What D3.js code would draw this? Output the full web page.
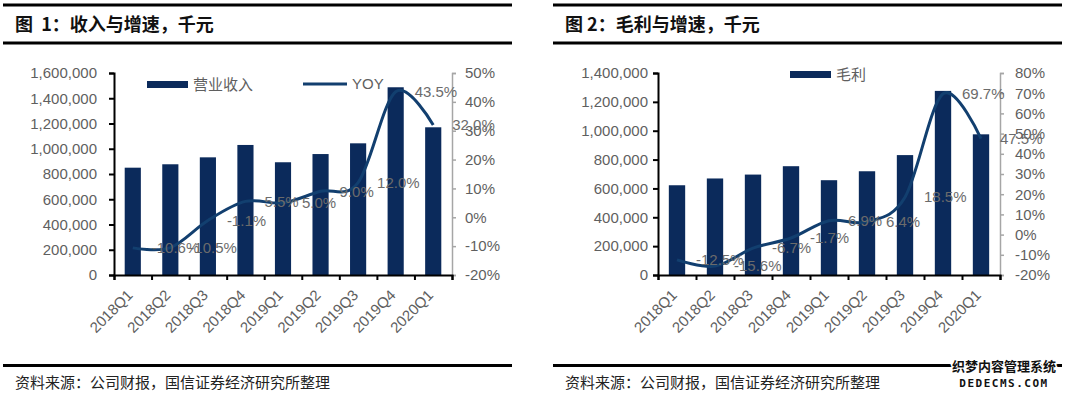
<!DOCTYPE html>
<html>
<head>
<meta charset="utf-8">
<script src="https://cdn.jsdelivr.net/npm/d3@7"></script>
<style>
  body { margin: 0; background: #fff; }
  svg { display: block; font-family: "Liberation Sans", Arial, "Noto Sans CJK SC", sans-serif; }
</style>
</head>
<body>
<svg id="chart" width="1080" height="394"></svg>
<script>
// quarters shared by both charts
const quarters = ['2018Q1', '2018Q2', '2018Q3', '2018Q4', '2019Q1', '2019Q2', '2019Q3', '2019Q4', '2020Q1']

// chart 1: revenue (thousand yuan) and yoy growth (%)
const revenue = [850000, 877000, 932000, 1030000, 893000, 958000, 1043000, 1487000, 1170000]
const revenueYoy = [-10.6, -10.5, -1.1, 5.5, 5.0, 9.0, 12.0, 43.5, 32.0]
const revenueTicks = [0, 200000, 400000, 600000, 800000, 1000000, 1200000, 1400000, 1600000]
const revenueYoyTicks = [-20, -10, 0, 10, 20, 30, 40, 50]

// chart 2: gross profit (thousand yuan) and yoy growth (%)
const grossProfit = [622000, 669000, 696000, 754000, 657000, 719000, 831000, 1276000, 975000]
const grossProfitYoy = [-12.5, -15.6, -6.7, -1.7, 6.9, 6.4, 18.5, 69.7, 47.5]
const profitTicks = [0, 200000, 400000, 600000, 800000, 1000000, 1200000, 1400000]
const profitYoyTicks = [-20, -10, 0, 10, 20, 30, 40, 50, 60, 70, 80]

const BAR = '#0b2a5b'
const LINE = '#123f6f'
const TEXT = '#5f5f5f'
const SOURCE = '资料来源：公司财报，国信证券经济研究所整理'

const svg = d3.select('#chart')

/**
 * Draws one framed panel: title rules, bars + smooth yoy line, axes, legend, source
 */
function drawPanel (p) {
  const g = svg.append('g')

  // header and footer rules
  ;[5, 43, 365.5].forEach(y => {
    g.append('line')
      .attr('x1', p.frame[0]).attr('x2', p.frame[1])
      .attr('y1', y).attr('y2', y)
      .attr('stroke', '#000').attr('stroke-width', 3)
  })
  g.append('text')
    .attr('x', p.titleX).attr('y', 25).attr('dy', '0.35em')
    .attr('font-size', 18).attr('font-weight', 'bold')
    .attr('font-family', '"Noto Sans CJK SC", sans-serif')
    .attr('fill', '#111')
    .attr('xml:space', 'preserve')
    .text(p.title)
  g.append('text')
    .attr('x', p.titleX).attr('y', 383).attr('dy', '0.35em')
    .attr('font-size', 15)
    .attr('font-family', '"Noto Sans CJK SC", sans-serif')
    .attr('fill', '#222')
    .text(SOURCE)

  const x = d3.scaleBand().domain(quarters).range(p.xRange)
    .paddingInner(0.57).paddingOuter(0.285)
  const y = d3.scaleLinear().domain(d3.extent(p.leftTicks)).range([275, 73])
  const y2 = d3.scaleLinear().domain(d3.extent(p.rightTicks)).range([275, 73])

  // bars
  g.append('g').selectAll('rect')
    .data(p.bars).join('rect')
    .attr('x', (d, i) => x(quarters[i]))
    .attr('width', x.bandwidth())
    .attr('y', d => y(d))
    .attr('height', d => y(0) - y(d))
    .attr('fill', BAR)

  // left axis
  const left = g.append('g')
    .attr('transform', `translate(${p.xRange[0]},0)`)
    .call(d3.axisLeft(y).tickValues(p.leftTicks).tickFormat(d3.format(',')).tickSize(5).tickPadding(p.leftPad))
  left.select('.domain').attr('stroke', '#000').attr('stroke-width', 2)
  left.selectAll('.tick line').attr('stroke', '#000').attr('stroke-width', 2)
  left.selectAll('text').attr('font-size', 15).attr('fill', TEXT)

  // right axis
  const right = g.append('g')
    .attr('transform', `translate(${p.xRange[1]},0)`)
    .call(d3.axisRight(y2).tickValues(p.rightTicks).tickFormat(d => d + '%').tickSize(4).tickPadding(p.rightPad))
  right.select('.domain').attr('stroke', '#a6a6a6').attr('stroke-width', 1.5)
  right.selectAll('.tick line').attr('stroke', '#a6a6a6').attr('stroke-width', 1.5)
  right.selectAll('text').attr('font-size', 15).attr('fill', TEXT)

  // x axis: ticks between categories, labels rotated
  const edges = d3.scaleLinear().domain([0, quarters.length]).range(p.xRange)
  const bottom = g.append('g').attr('transform', 'translate(0,275)')
  bottom.call(d3.axisBottom(edges).tickValues(d3.range(quarters.length + 1)).tickFormat('').tickSize(5))
  bottom.select('.domain').attr('stroke', '#000').attr('stroke-width', 2)
  bottom.selectAll('.tick line').attr('stroke', '#000').attr('stroke-width', 2)
  const labels = g.append('g').attr('transform', 'translate(0,275)')
    .call(d3.axisBottom(x).tickSize(0))
  labels.select('.domain').remove()
  labels.selectAll('text')
    .attr('font-size', 15).attr('fill', TEXT)
    .attr('text-anchor', 'end')
    .attr('x', 0).attr('y', 0).attr('dy', 0)
    .attr('transform', 'translate(1,21) rotate(-45)')

  // yoy line
  const cx = i => x(quarters[i]) + x.bandwidth() / 2
  const line = d3.line()
    .x((d, i) => cx(i))
    .y(d => y2(d))
    .curve(d3.curveCardinal.tension(0))
  g.append('path')
    .datum(p.yoy)
    .attr('d', line)
    .attr('fill', 'none')
    .attr('stroke', LINE)
    .attr('stroke-width', 3)

  g.append('g').selectAll('text')
    .data(p.yoy).join('text')
    .attr('x', (d, i) => cx(i) + 19)
    .attr('y', d => y2(d))
    .attr('dy', '0.35em')
    .attr('font-size', 15)
    .attr('fill', '#6b6b6b')
    .text(d => d.toFixed(1) + '%')

  // legend
  const lg = g.append('g')
  lg.append('rect')
    .attr('x', p.legend.bar[0]).attr('y', p.legend.bar[1])
    .attr('width', 41).attr('height', 7).attr('fill', BAR)
  lg.append('text')
    .attr('x', p.legend.bar[0] + 46).attr('y', p.legend.bar[1] + 4).attr('dy', '0.35em')
    .attr('font-size', 15).attr('fill', TEXT)
    .attr('font-family', '"Noto Sans CJK SC", sans-serif')
    .text(p.legend.barName)
  if (p.legend.line) {
    lg.append('line')
      .attr('x1', p.legend.line[0]).attr('x2', p.legend.line[0] + 44)
      .attr('y1', p.legend.line[1]).attr('y2', p.legend.line[1])
      .attr('stroke', LINE).attr('stroke-width', 3)
    lg.append('text')
      .attr('x', p.legend.line[0] + 49).attr('y', p.legend.line[1]).attr('dy', '0.35em')
      .attr('font-size', 15).attr('fill', TEXT)
      .text('YOY')
  }
}

drawPanel({
  title: '图  1：收入与增速，千元',
  titleX: 15,
  frame: [3, 512],
  xRange: [114, 452],
  bars: revenue,
  yoy: revenueYoy,
  leftTicks: revenueTicks,
  rightTicks: revenueYoyTicks,
  leftPad: 12,
  rightPad: 9,
  legend: { bar: [147, 81], barName: '营业收入', line: [303, 84] }
})

drawPanel({
  title: '图 2：毛利与增速，千元',
  titleX: 565,
  frame: [553, 1062],
  xRange: [658, 1000],
  bars: grossProfit,
  yoy: grossProfitYoy,
  leftTicks: profitTicks,
  rightTicks: profitYoyTicks,
  leftPad: 5,
  rightPad: 11,
  legend: { bar: [790, 71], barName: '毛利' }
})

// site watermark in the corner
const wm = svg.append('g').attr('font-weight', 'bold').attr('text-anchor', 'middle')
wm.append('text')
  .attr('x', 1004).attr('y', 366).attr('dy', '0.35em')
  .attr('font-size', 13).attr('font-family', '"Noto Sans CJK SC", sans-serif')
  .attr('fill', '#111')
  .attr('stroke', '#fff').attr('stroke-width', 3).attr('paint-order', 'stroke')
  .text('织梦内容管理系统')
wm.append('text')
  .attr('x', 1004).attr('y', 383).attr('dy', '0.35em')
  .attr('font-size', 11).attr('font-family', '"DejaVu Sans Mono", monospace')
  .attr('letter-spacing', 1.5)
  .attr('fill', '#111')
  .text('DEDECMS.COM')
</script>
</body>
</html>
